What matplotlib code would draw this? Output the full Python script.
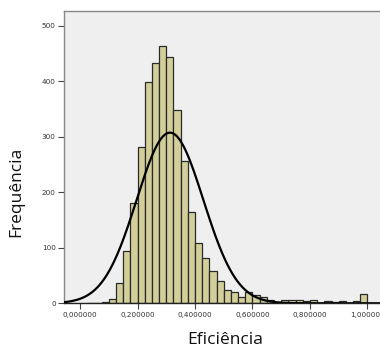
import numpy as np
import matplotlib
matplotlib.use('Agg')
import matplotlib.pyplot as plt

# histogram bins (width 0.025) starting at 0.025
bin_left = np.arange(0.025, 1.0, 0.025)
counts = [1, 1, 3, 7, 36, 94, 180, 282, 398, 433, 464, 443, 349, 257, 164,
          109, 82, 59, 41, 24, 21, 11, 20, 15, 11, 6, 2, 6, 6, 6, 4, 6,
          1, 5, 2, 4, 1, 4, 17]
bin_w = 0.025

# normal curve parameters
mean = 0.313
sd = 0.116

xticks = [0.0, 0.2, 0.4, 0.6, 0.8, 1.0]
xtick_labels = ['0,000000', '0,200000', '0,400000', '0,600000', '0,800000', '1,000000']
yticks = [0, 100, 200, 300, 400, 500]

fig = plt.figure(figsize=(3.8, 3.47), dpi=100)
ax = fig.add_axes([64/380, 43.7/347, 321/380, 292.3/347])
ax.set_facecolor('#efefef')

ax.bar(bin_left, counts, width=bin_w, align='edge', color='#d3cf9a',
       edgecolor='#2a2a2a', linewidth=0.9, zorder=2)

xs = np.linspace(-0.06, 1.06, 400)
n = sum(counts)
ys = n * bin_w / (sd * np.sqrt(2*np.pi)) * np.exp(-0.5*((xs-mean)/sd)**2)
ax.plot(xs, ys, color='black', linewidth=1.6, zorder=3)

ax.set_xlim(-0.0557, 1.061)
ax.set_ylim(0, 526.5)
ax.set_xticks(xticks)
ax.set_xticklabels(xtick_labels)
ax.set_yticks(yticks)
ax.tick_params(axis='both', labelsize=5.2, length=4, width=0.8, color='#444444',
               labelcolor='#333333', pad=2)

for s in ['left', 'top']:
    ax.spines[s].set_color('#888888')
    ax.spines[s].set_linewidth(1.0)
ax.spines['right'].set_visible(False)
ax.spines['bottom'].set_color('#222222')
ax.spines['bottom'].set_linewidth(1.0)

fig.text(225/380, 1 - 340/347, 'Eficiência', ha='center', va='center',
         fontsize=12.5, family='Open Sans', color='#111111')
fig.text(16/380, 1 - 192/347, 'Frequência', ha='center', va='center',
         rotation=90, fontsize=12.5, family='Open Sans', color='#111111')

fig.savefig('out.png', dpi=100)
